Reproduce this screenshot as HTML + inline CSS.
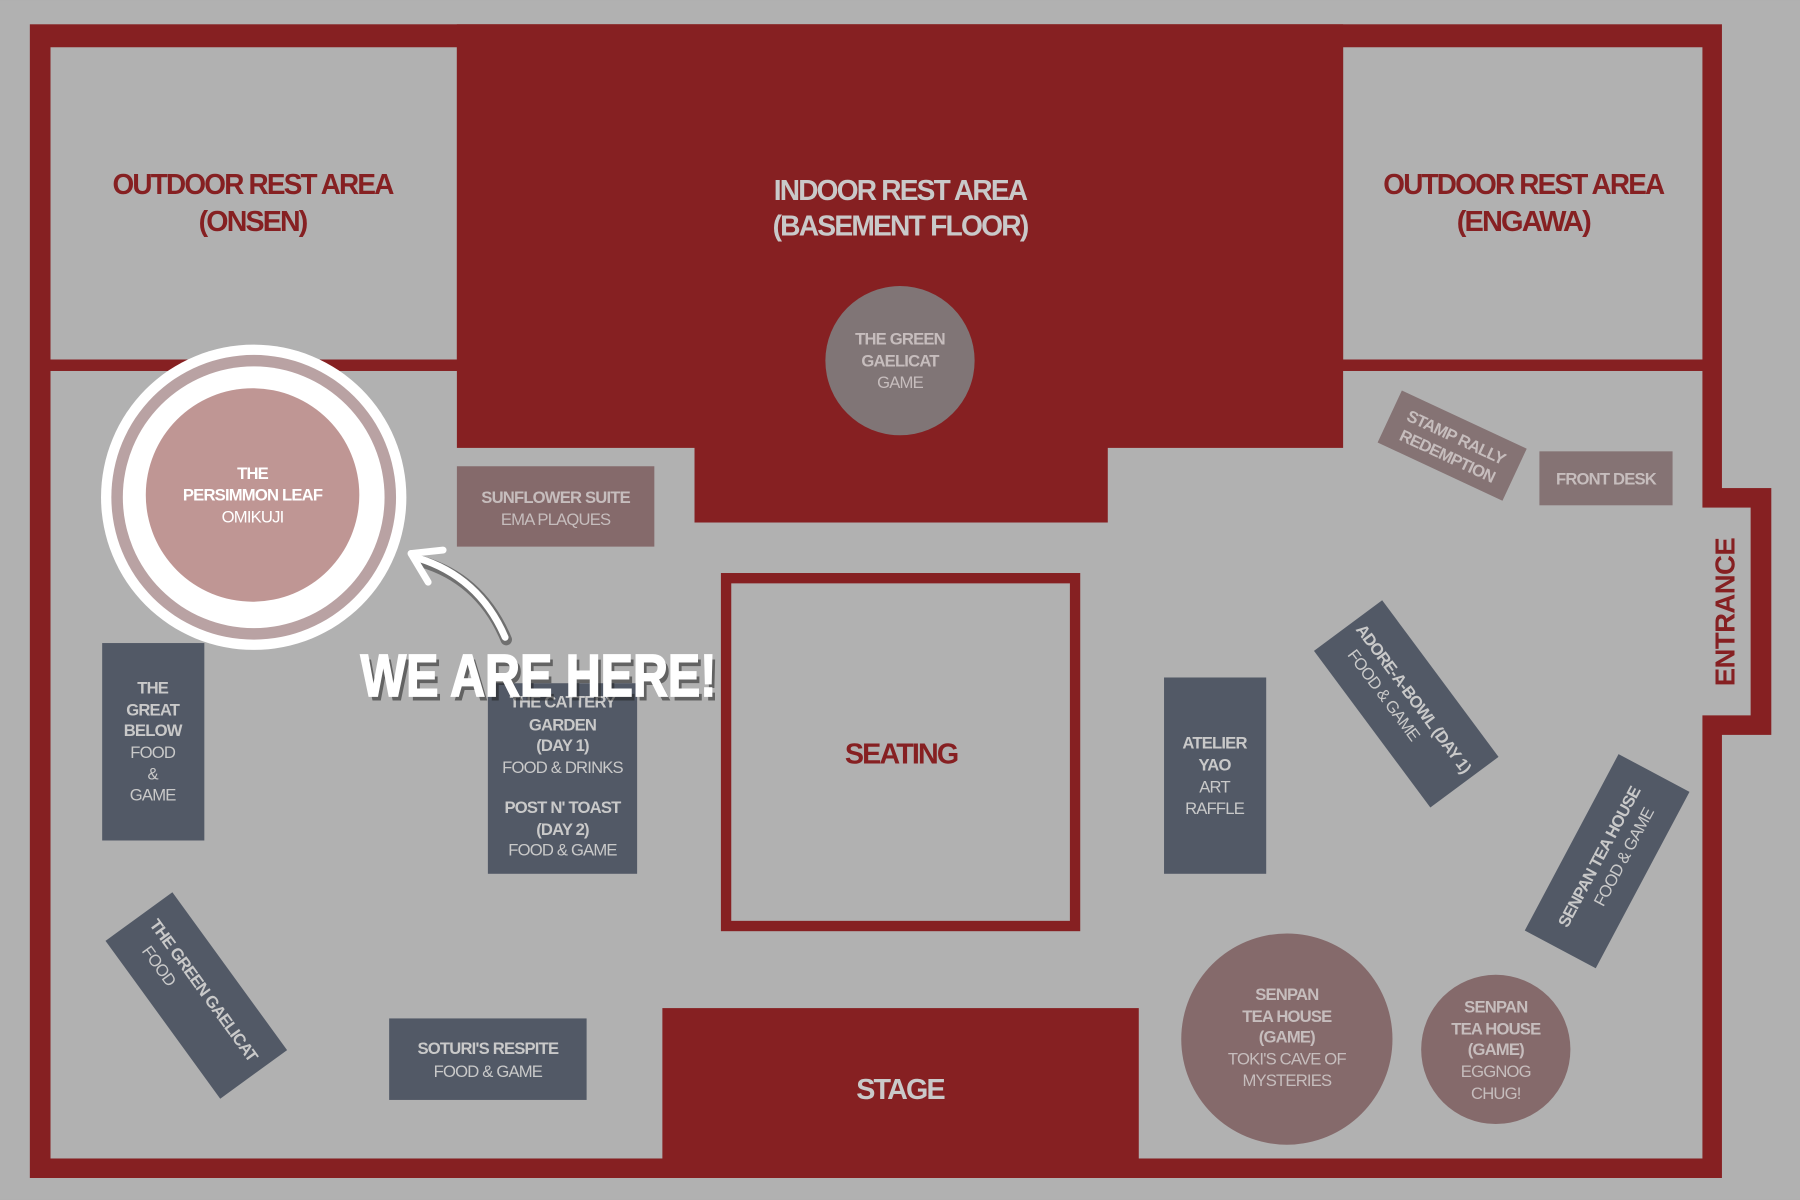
<!DOCTYPE html>
<html><head><meta charset="utf-8"><style>
html,body{margin:0;padding:0;background:#b1b1b1;}
svg{display:block}
text{font-family:"Liberation Sans",sans-serif;}
.t{font-size:14.5px;letter-spacing:-0.7px;text-anchor:middle;fill:#c9c9c9}
.w{fill:#ffffff}
.p{fill:#c6bdbd}
.b{font-weight:bold}
.h{font-size:25px;font-weight:bold;text-anchor:middle;letter-spacing:-1.6px}
</style></head><body>
<svg width="1800" height="1200" viewBox="0 0 1568 1045" xmlns="http://www.w3.org/2000/svg">
<rect width="1568" height="1045" fill="#b1b1b1"/>
<rect x="26" y="21" width="1474" height="1005" fill="#862022"/>
<rect x="1483" y="425" width="60" height="215" fill="#862022"/>
<rect x="44" y="41" width="354" height="272" fill="#b1b1b1"/>
<rect x="1170" y="41" width="313" height="272" fill="#b1b1b1"/>
<rect x="44" y="323" width="1439" height="686" fill="#b1b1b1"/>
<rect x="1480" y="442" width="45" height="181" fill="#b1b1b1"/>
<rect x="398" y="21" width="772" height="369" fill="#862022"/>
<rect x="605" y="385" width="360" height="70" fill="#862022"/>
<rect x="577" y="878" width="415" height="148" fill="#862022"/>
<rect x="632.5" y="503.5" width="304" height="303" fill="#b1b1b1" stroke="#862022" stroke-width="9"/>
<text x="785" y="665" class="h" fill="#862022">SEATING</text>
<text x="784" y="957" class="h" fill="#c9c9c9">STAGE</text>
<text x="220" y="169" class="h" fill="#862022" textLength="244" lengthAdjust="spacingAndGlyphs">OUTDOOR REST AREA</text>
<text x="220" y="201" class="h" fill="#862022" textLength="94" lengthAdjust="spacingAndGlyphs">(ONSEN)</text>
<text x="784" y="174" class="h" fill="#c9c9c9" textLength="220" lengthAdjust="spacingAndGlyphs">INDOOR REST AREA</text>
<text x="784" y="205" class="h" fill="#c9c9c9" textLength="222" lengthAdjust="spacingAndGlyphs">(BASEMENT FLOOR)</text>
<text x="1327" y="169" class="h" fill="#862022" textLength="244" lengthAdjust="spacingAndGlyphs">OUTDOOR REST AREA</text>
<text x="1327" y="201" class="h" fill="#862022" textLength="116" lengthAdjust="spacingAndGlyphs">(ENGAWA)</text>
<circle cx="784" cy="314" r="65" fill="#807576"/>
<text class="t b p" x="784" y="300">THE GREEN</text>
<text class="t b p" x="784" y="319">GAELICAT</text>
<text class="t p" x="784" y="338">GAME</text>
<circle cx="221" cy="433" r="133" fill="#ffffff"/>
<circle cx="221" cy="433" r="124" fill="#b9a2a3"/>
<circle cx="221" cy="433" r="114" fill="#ffffff"/>
<circle cx="220" cy="431" r="93" fill="#bf9694"/>
<text class="t b w" x="220" y="417">THE</text>
<text class="t b w" x="220" y="436">PERSIMMON LEAF</text>
<text class="t w" x="220" y="455">OMIKUJI</text>
<rect x="398" y="406" width="172" height="70" fill="#856a6b"/>
<text class="t b p" x="484" y="438">SUNFLOWER SUITE</text>
<text class="t p" x="484" y="457">EMA PLAQUES</text>
<g transform="translate(1265,388) rotate(25)">
<rect x="-60" y="-25" width="120" height="50" fill="#857374"/>
<text class="t b p" x="0" y="-3">STAMP RALLY</text>
<text class="t b p" x="0" y="15">REDEMPTION</text>
</g>
<rect x="1341" y="393" width="116" height="47" fill="#857374"/>
<text class="t b p" x="1399" y="422">FRONT DESK</text>
<text x="1511" y="533" class="h" fill="#862022" transform="rotate(-90 1511 533)" style="font-size:24px;letter-spacing:-0.5px">ENTRANCE</text>
<rect x="89" y="560" width="89" height="172" fill="#525966"/>
<text class="t b" x="133" y="604">THE</text>
<text class="t b" x="133" y="623">GREAT</text>
<text class="t b" x="133" y="641">BELOW</text>
<text class="t" x="133" y="660">FOOD</text>
<text class="t" x="133" y="679">&amp;</text>
<text class="t" x="133" y="697">GAME</text>
<rect x="425" y="595" width="130" height="166" fill="#525966"/>
<text class="t b" x="490" y="616">THE CATTERY</text>
<text class="t b" x="490" y="636">GARDEN</text>
<text class="t b" x="490" y="654">(DAY 1)</text>
<text class="t" x="490" y="673">FOOD &amp; DRINKS</text>
<text class="t b" x="490" y="708">POST N' TOAST</text>
<text class="t b" x="490" y="727">(DAY 2)</text>
<text class="t" x="490" y="745">FOOD &amp; GAME</text>
<rect x="1014" y="590" width="89" height="171" fill="#525966"/>
<text class="t b" x="1058" y="652">ATELIER</text>
<text class="t b" x="1058" y="671">YAO</text>
<text class="t" x="1058" y="690">ART</text>
<text class="t" x="1058" y="709">RAFFLE</text>
<g transform="translate(1225,613) rotate(53.4)">
<rect x="-85" y="-37" width="170" height="74" fill="#525966"/>
<text class="t b" x="0" y="-3">ADORE-A-BOWL (DAY 1)</text>
<text class="t" x="-18" y="16">FOOD &amp; GAME</text>
</g>
<g transform="translate(1400,750) rotate(-62)">
<rect x="-87" y="-35" width="174" height="70" fill="#525966"/>
<text class="t b" x="0" y="-3">SENPAN TEA HOUSE</text>
<text class="t" x="10" y="16">FOOD &amp; GAME</text>
</g>
<g transform="translate(171,867) rotate(54)">
<rect x="-85" y="-36" width="170" height="72" fill="#525966"/>
<text class="t b" x="0" y="-3">THE GREEN GAELICAT</text>
<text class="t" x="-40" y="16">FOOD</text>
</g>
<rect x="339" y="887" width="172" height="71" fill="#525966"/>
<text class="t b" x="425" y="918">SOTURI'S RESPITE</text>
<text class="t" x="425" y="938">FOOD &amp; GAME</text>
<circle cx="1121" cy="905" r="92" fill="#856a6b"/>
<text class="t b p" x="1121" y="871">SENPAN</text>
<text class="t b p" x="1121" y="890">TEA HOUSE</text>
<text class="t b p" x="1121" y="908">(GAME)</text>
<text class="t p" x="1121" y="927">TOKI'S CAVE OF</text>
<text class="t p" x="1121" y="946">MYSTERIES</text>
<circle cx="1303" cy="914" r="65" fill="#856a6b"/>
<text class="t b p" x="1303" y="882">SENPAN</text>
<text class="t b p" x="1303" y="901">TEA HOUSE</text>
<text class="t b p" x="1303" y="919">(GAME)</text>
<text class="t p" x="1303" y="938">EGGNOG</text>
<text class="t p" x="1303" y="957">CHUG!</text>
<path d="M441,557 C426,521 401,499 367,489" fill="none" stroke="#222" stroke-width="10" stroke-linecap="round" opacity="0.45"/>
<path d="M440,555 C425,520 400,497 364,486" fill="none" stroke="#fff" stroke-width="6" stroke-linecap="round"/>
<path d="M358,482 L386,479 M358,482 L373,507" fill="none" stroke="#fff" stroke-width="6" stroke-linecap="round"/>
<text x="472" y="610" text-anchor="middle" font-weight="bold" font-size="52" fill="#222" opacity="0.55" textLength="310" lengthAdjust="spacingAndGlyphs">WE ARE HERE!</text>
<text x="469" y="606" text-anchor="middle" font-weight="bold" font-size="52" fill="#fff" stroke="#fff" stroke-width="1.5" textLength="310" lengthAdjust="spacingAndGlyphs">WE ARE HERE!</text>
</svg>
</body></html>
